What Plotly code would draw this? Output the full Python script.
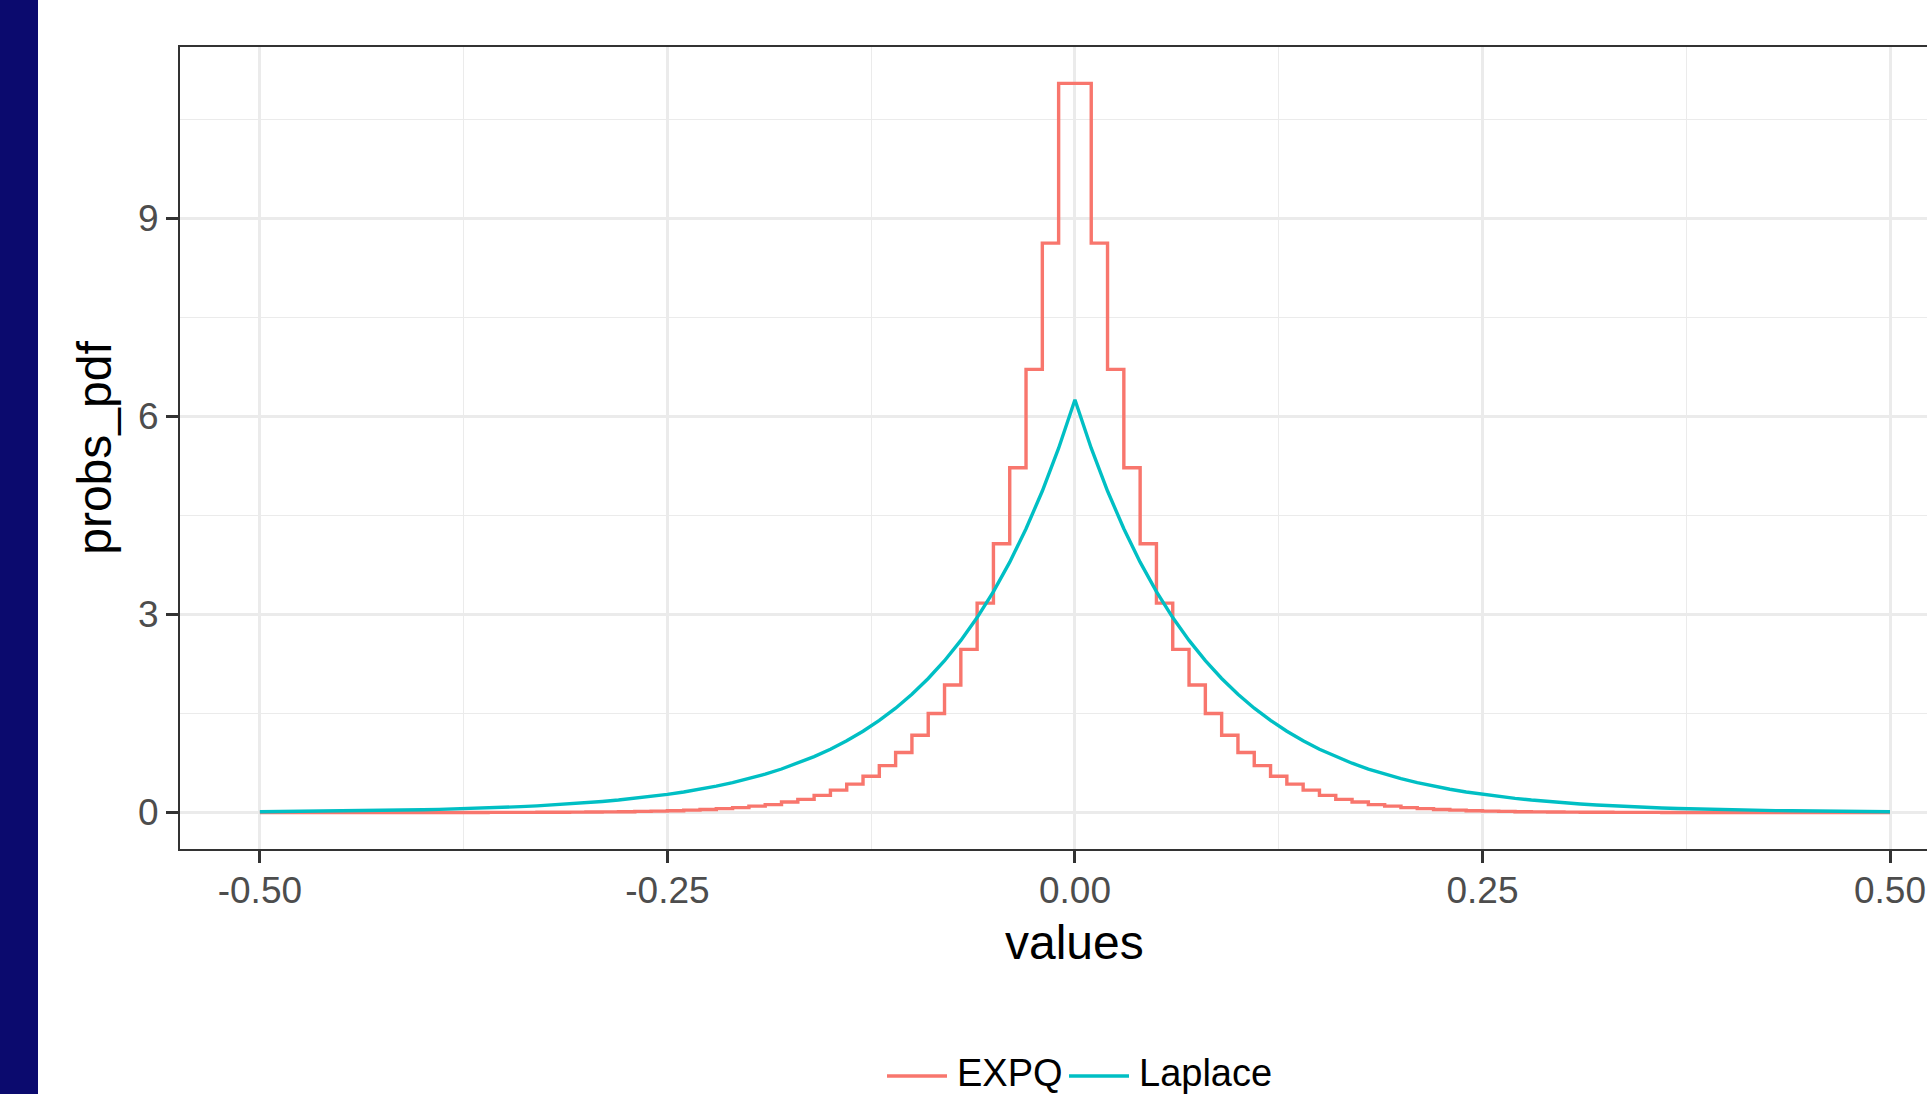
import plotly.graph_objects as go

# ---------------- data ----------------
values_x = [-0.50, -0.49, -0.48, -0.47, -0.46, -0.45, -0.44, -0.43, -0.42, -0.41,
            -0.40, -0.39, -0.38, -0.37, -0.36, -0.35, -0.34, -0.33, -0.32, -0.31,
            -0.30, -0.29, -0.28, -0.27, -0.26, -0.25, -0.24, -0.23, -0.22, -0.21,
            -0.20, -0.19, -0.18, -0.17, -0.16, -0.15, -0.14, -0.13, -0.12, -0.11,
            -0.10, -0.09, -0.08, -0.07, -0.06, -0.05, -0.04, -0.03, -0.02, -0.01,
            0.00,
            0.01, 0.02, 0.03, 0.04, 0.05, 0.06, 0.07, 0.08, 0.09, 0.10,
            0.11, 0.12, 0.13, 0.14, 0.15, 0.16, 0.17, 0.18, 0.19, 0.20,
            0.21, 0.22, 0.23, 0.24, 0.25, 0.26, 0.27, 0.28, 0.29, 0.30,
            0.31, 0.32, 0.33, 0.34, 0.35, 0.36, 0.37, 0.38, 0.39, 0.40,
            0.41, 0.42, 0.43, 0.44, 0.45, 0.46, 0.47, 0.48, 0.49, 0.50]

# EXPQ step heights (each value holds until the next x)
expq_pdf = [0.0001, 0.0001, 0.0001, 0.0001, 0.0001, 0.0002, 0.0002, 0.0003, 0.0004, 0.0005,
            0.001, 0.001, 0.001, 0.001, 0.002, 0.002, 0.003, 0.004, 0.005, 0.006,
            0.008, 0.010, 0.013, 0.017, 0.022, 0.028, 0.036, 0.046, 0.059, 0.075,
            0.097, 0.12, 0.16, 0.20, 0.26, 0.34, 0.43, 0.55, 0.71, 0.91,
            1.17, 1.50, 1.93, 2.47, 3.17, 4.07, 5.22, 6.71, 8.62, 11.04,
            11.04,
            8.62, 6.71, 5.22, 4.07, 3.17, 2.47, 1.93, 1.50, 1.17, 0.91,
            0.71, 0.55, 0.43, 0.34, 0.26, 0.20, 0.16, 0.12, 0.097, 0.075,
            0.059, 0.046, 0.036, 0.028, 0.022, 0.017, 0.013, 0.010, 0.008, 0.006,
            0.005, 0.004, 0.003, 0.002, 0.002, 0.001, 0.001, 0.001, 0.001, 0.0005,
            0.0004, 0.0003, 0.0002, 0.0002, 0.0001, 0.0001, 0.0001, 0.0001, 0.0001, 0.0001]

laplace_pdf = [0.012, 0.014, 0.016, 0.018, 0.020, 0.023, 0.026, 0.029, 0.033, 0.037,
               0.042, 0.048, 0.054, 0.061, 0.069, 0.079, 0.089, 0.101, 0.115, 0.130,
               0.147, 0.167, 0.189, 0.214, 0.242, 0.275, 0.311, 0.353, 0.400, 0.453,
               0.513, 0.581, 0.659, 0.747, 0.846, 0.959, 1.086, 1.231, 1.395, 1.580,
               1.791, 2.029, 2.299, 2.606, 2.952, 3.346, 3.791, 4.296, 4.868, 5.516,
               6.25,
               5.516, 4.868, 4.296, 3.791, 3.346, 2.952, 2.606, 2.299, 2.029, 1.791,
               1.580, 1.395, 1.231, 1.086, 0.959, 0.846, 0.747, 0.659, 0.581, 0.513,
               0.453, 0.400, 0.353, 0.311, 0.275, 0.242, 0.214, 0.189, 0.167, 0.147,
               0.130, 0.115, 0.101, 0.089, 0.079, 0.069, 0.061, 0.054, 0.048, 0.042,
               0.037, 0.033, 0.029, 0.026, 0.023, 0.020, 0.018, 0.016, 0.014, 0.012]

series_names = ["EXPQ", "Laplace"]
series_colors = ["#F8766D", "#00BFC4"]

x_tickvals = [-0.50, -0.25, 0.00, 0.25, 0.50]
x_ticktext = ["-0.50", "-0.25", "0.00", "0.25", "0.50"]
y_tickvals = [0, 3, 6, 9]
y_ticktext = ["0", "3", "6", "9"]

# ---------------- layout geometry ----------------
W, H = 1927, 1094
ML, MT, MB = 180, 47, 245
PW = W - ML
PH = H - MT - MB


def px_x(p):
    return (p - ML) / PW


def px_y(p):
    return (H - MB - p) / PH


FONT = "Liberation Sans, Arial, Helvetica, sans-serif"

fig = go.Figure()
fig.add_trace(go.Scatter(x=values_x, y=expq_pdf, mode="lines", name=series_names[0],
                         line=dict(color=series_colors[0], width=3.4, shape="hv")))
fig.add_trace(go.Scatter(x=values_x, y=laplace_pdf, mode="lines", name=series_names[1],
                         line=dict(color=series_colors[1], width=3.4)))

fig.update_layout(
    width=W, height=H,
    margin=dict(l=ML, r=0, t=MT, b=MB, autoexpand=False),
    paper_bgcolor="white", plot_bgcolor="white",
    showlegend=False,
    font=dict(family=FONT, color="black"),
)

fig.update_xaxes(
    range=[-0.549, 0.5227],
    tickvals=x_tickvals, ticktext=x_ticktext,
    tickfont=dict(size=37, color="#4D4D4D", family=FONT),
    ticks="outside", ticklen=12, tickwidth=2.5, tickcolor="#333333",
    ticklabelstandoff=-4,
    showline=True, linecolor="#333333", linewidth=2, mirror=True,
    showgrid=True, gridcolor="#EBEBEB", gridwidth=2.5,
    minor=dict(tickvals=[-0.375, -0.125, 0.125, 0.375], showgrid=True,
               gridcolor="#EBEBEB", gridwidth=1.3, ticks=""),
    zeroline=False,
)
fig.update_yaxes(
    range=[-0.552, 11.59],
    tickvals=y_tickvals, ticktext=y_ticktext,
    tickfont=dict(size=37, color="#4D4D4D", family=FONT),
    ticks="outside", ticklen=12, tickwidth=2.5, tickcolor="#333333",
    showline=True, linecolor="#333333", linewidth=2, mirror=False,
    showgrid=True, gridcolor="#EBEBEB", gridwidth=2.5,
    minor=dict(tickvals=[1.5, 4.5, 7.5, 10.5], showgrid=True,
               gridcolor="#EBEBEB", gridwidth=1.3, ticks=""),
    zeroline=False,
    title=dict(text="probs_pdf", font=dict(size=48, color="black", family=FONT), standoff=11),
)

# x-axis title, centred on the full (partly off-frame) panel, i.e. at x = 0
fig.add_annotation(xref="x", yref="paper", x=0.0, y=px_y(942),
                   xanchor="center", yanchor="middle", showarrow=False,
                   text="values", font=dict(size=48, color="black", family=FONT))

# left navy band
fig.add_shape(type="rect", xref="paper", yref="paper",
              x0=px_x(0), x1=px_x(38), y0=px_y(H + 20), y1=px_y(-20),
              fillcolor="#0B0A6E", line=dict(width=0))

# manual legend at the bottom
legend_y = px_y(1076)
key_spans = [(887, 947), (1069, 1129)]
label_x = [956, 1138]
for name, color, (k0, k1), lx in zip(series_names, series_colors, key_spans, label_x):
    fig.add_shape(type="line", xref="paper", yref="paper",
                  x0=px_x(k0), x1=px_x(k1), y0=legend_y, y1=legend_y,
                  line=dict(color=color, width=3.4))
    fig.add_annotation(xref="paper", yref="paper", x=px_x(lx), y=px_y(1073),
                       xanchor="left", yanchor="middle", showarrow=False,
                       text=name, font=dict(size=38, color="black", family=FONT),
                       borderpad=0)

fig.write_html("out.html")
